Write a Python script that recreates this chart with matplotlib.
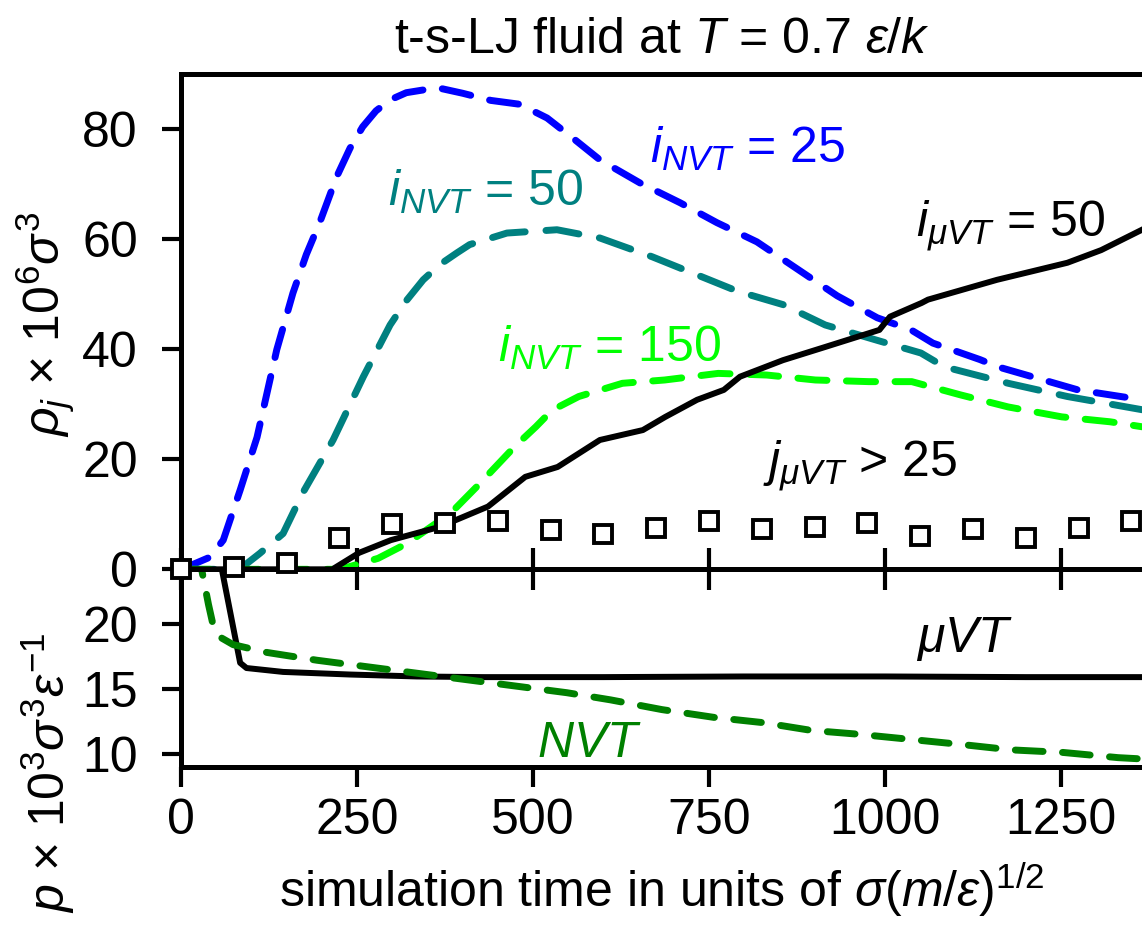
import numpy as np
import matplotlib
matplotlib.use("Agg")
import matplotlib.pyplot as plt

plt.rcParams['font.family'] = ['Liberation Sans', 'DejaVu Sans']
plt.rcParams['mathtext.fontset'] = 'custom'
plt.rcParams['mathtext.rm'] = 'Liberation Sans'
plt.rcParams['mathtext.it'] = 'Liberation Sans:italic'
plt.rcParams['mathtext.bf'] = 'Liberation Sans:bold'
plt.rcParams['lines.scale_dashes'] = False

# ---- data ----
# i_NVT = 25 (blue)
t_25 = [0, 8, 41, 60, 84, 108, 136, 159, 178, 197, 221, 240, 258, 277, 297, 320, 349, 368,
        400, 440, 481, 520, 560, 595, 652, 709, 761, 818, 875, 932, 989, 1037, 1068, 1135,
        1160, 1274, 1365]
rho_25 = [0, 0.4, 2.2, 5.3, 14.4, 24, 39.9, 50.2, 57.2, 63, 71.3, 76.5, 80.4, 83.3, 85.3,
          86.6, 87.2, 87.4, 86.5, 85.2, 84.5, 82, 78, 74.4, 70.2, 66.6, 63, 59.5, 54.6, 49.7,
          45.7, 43.5, 41.1, 38.1, 36.8, 32.6, 30.8]

# i_NVT = 50 (teal)
t_50 = [0, 80, 94, 112, 145, 173, 216, 259, 297, 320, 344, 368, 392, 410, 463, 534, 595, 669,
        733, 791, 855, 915, 989, 1051, 1084, 1175, 1259, 1365]
rho_50 = [0, 0, 1.1, 2.9, 6.5, 13.9, 23.5, 35, 44.4, 48.8, 52.6, 55.4, 57.5, 59, 61.1, 61.7,
          60.2, 56.8, 53.5, 50.5, 48.1, 44.4, 41.6, 39.3, 36.8, 33.8, 31.4, 29]

# i_NVT = 150 (green)
t_150 = [0, 220, 237, 280, 321, 383, 420, 474, 504, 527, 565, 627, 687, 763, 832, 901, 977,
         1038, 1107, 1175, 1251, 1320, 1365]
rho_150 = [0, 0, 0.4, 2, 4.7, 10.2, 15, 22.3, 25.9, 28.9, 31.4, 33.8, 34.4, 35.6, 35.3, 34.4,
           34.1, 34.1, 31.7, 29.5, 27.7, 26.8, 25.9]

# i_muVT = 50 (black)
t_mu = [0, 215, 253, 298, 367, 436, 489, 535, 595, 656, 688, 733, 771, 794, 855, 915, 992,
        1007, 1052, 1061, 1159, 1259, 1307, 1365]
rho_mu = [0, 0, 3, 5.3, 7.7, 11.4, 16.8, 18.6, 23.5, 25.3, 27.7, 30.8, 32.6, 35, 38, 40.4,
          43.5, 45.9, 48.4, 49, 52.6, 55.7, 58, 61.7]

# j_muVT > 25 (squares)
t_sq = [0, 75, 150, 225, 300, 375, 450, 525, 600, 675, 750, 825, 900, 975, 1050, 1125, 1200,
        1275, 1350]
rho_sq = [0, 0.4, 1.1, 5.7, 8.2, 8.4, 8.7, 7.1, 6.5, 7.5, 8.7, 7.3, 7.7, 8.5, 6.1, 7.3, 5.7,
          7.5, 8.8]

# pressure, muVT (black) and NVT (dark green)
t_p_mu = [0, 58, 84, 93, 145, 240, 335, 429, 600, 800, 1000, 1200, 1365]
p_mu = [45, 24.2, 17.0, 16.6, 16.3, 16.1, 15.95, 15.9, 15.9, 15.95, 15.95, 15.9, 15.9]

t_p_nvt = [0, 30, 39, 46, 58, 74, 122, 193, 264, 335, 406, 477, 548, 610, 683, 757, 826, 895,
           963, 1037, 1111, 1179, 1253, 1331, 1365]
p_nvt = [33, 24, 21.5, 19.8, 18.9, 18.4, 17.8, 17.2, 16.7, 16.2, 15.7, 15.2, 14.7, 14.15, 13.4,
         12.8, 12.4, 11.8, 11.5, 11.1, 10.7, 10.3, 10.1, 9.7, 9.6]

xticks = [0, 250, 500, 750, 1000, 1250]

# ---- figure ----
fig = plt.figure(figsize=(11.42, 9.33), dpi=100)
ax2 = fig.add_axes([0.1585, 0.1782, 0.8415, 0.2116])
ax1 = fig.add_axes([0.1585, 0.3898, 0.8415, 0.5309])
ax1.patch.set_visible(False)
ax2.patch.set_visible(False)

fs = 36
lw_sp = 3.6
lw_d = 5.0

ax1.plot(t_25, rho_25, color='#0000ff', lw=lw_d, dashes=(21, 14), dash_capstyle='round')
ax1.plot(t_50, rho_50, color='#008080', lw=lw_d, dashes=(24, 15), dash_capstyle='round')
ax1.plot(t_150, rho_150, color='#00ff00', lw=lw_d, dashes=(21, 14), dash_capstyle='round')
ax1.plot(t_mu, rho_mu, color='black', lw=4.3)
ax1.plot(t_sq, rho_sq, ls='none', marker='s', ms=12.5, mew=2.8, mec='black', mfc='white',
         clip_on=False, zorder=5)

ax2.plot(t_p_mu, p_mu, color='black', lw=4.3)
ax2.plot(t_p_nvt, p_nvt, color='#008000', lw=lw_d, dashes=(20, 14), dash_capstyle='round')

ax1.set_xlim(0, 1365)
ax1.set_ylim(0, 90)
ax2.set_xlim(0, 1365)
ax2.set_ylim(9.0, 24.2)

for ax in (ax1, ax2):
    ax.spines['right'].set_visible(False)
    for s in ('left', 'top', 'bottom'):
        ax.spines[s].set_linewidth(lw_sp)
    ax.set_xticks(xticks)
ax2.spines['top'].set_visible(False)

ax1.set_yticks([0, 20, 40, 60, 80])
ax2.set_yticks([10, 15, 20])

ax1.tick_params(axis='x', direction='inout', length=30, width=3, labelbottom=False)
ax1.tick_params(axis='y', direction='out', length=14, width=3, labelsize=fs, pad=17)
ax2.tick_params(axis='x', direction='out', length=14.5, width=3, labelsize=fs, pad=8)
ax2.tick_params(axis='y', direction='out', length=14, width=3, labelsize=fs, pad=17)

ax1.set_title(r't-s-LJ fluid at $T$ = 0.7 $\varepsilon/k$', fontsize=fs, pad=15)
ax2.set_xlabel(r'simulation time in units of $\sigma(m/\varepsilon)^{1/2}$', fontsize=fs,
               labelpad=12)

ax1.set_ylabel(r'$\rho_j$ × 10$^6\sigma^3$', fontsize=fs)
ax1.yaxis.set_label_coords(-0.108, 0.495)
ax2.set_ylabel(r'$p$ × 10$^3\sigma^3\varepsilon^{-1}$', fontsize=fs)
ax2.yaxis.set_label_coords(-0.108, -0.03)

ax1.text(666, 73.9, r'$i_{NVT}$ = 25', color='#0000ff', fontsize=fs)
ax1.text(294, 66.1, r'$i_{NVT}$ = 50', color='#008080', fontsize=fs)
ax1.text(450, 37.7, r'$i_{NVT}$ = 150', color='#00ff00', fontsize=fs)
ax1.text(1044, 60.4, r'$i_{\mu VT}$ = 50', color='black', fontsize=fs)
ax1.text(826, 16.8, r'$j_{\mu VT}$ > 25', color='black', fontsize=fs)
ax2.text(1044, 17.85, r'$\mu VT$', color='black', fontsize=fs)
ax2.text(506, 9.77, r'$NVT$', color='#008000', fontsize=fs)

fig.savefig('out.png', dpi=100)
